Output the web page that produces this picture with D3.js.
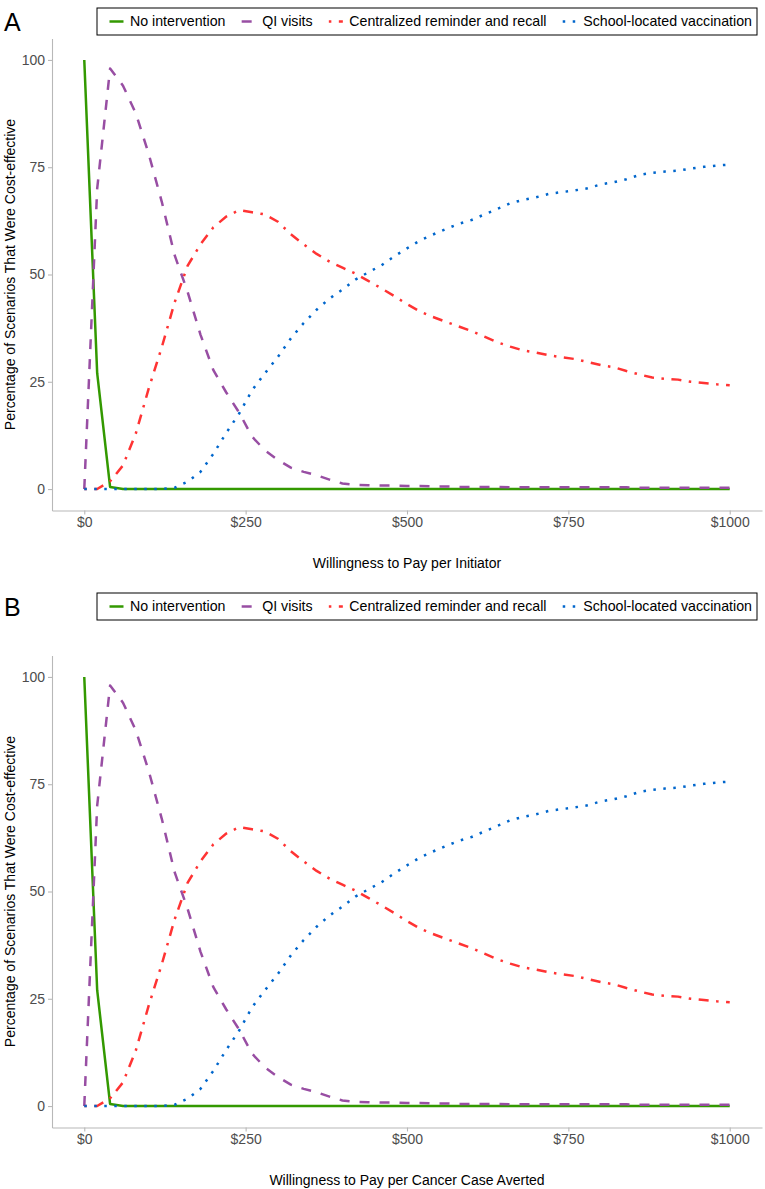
<!DOCTYPE html>
<html>
<head>
<meta charset="utf-8">
<script src="https://cdn.jsdelivr.net/npm/d3@7"></script>
<style>
  html, body { margin: 0; padding: 0; background: #fff; }
  svg { display: block; font-family: "Liberation Sans", Arial, sans-serif; }
</style>
</head>
<body>
<svg id="chart" width="765" height="1189"></svg>
<script>
// ---------------- DATA ----------------
const wtp = [0,20,40,60,80,100,120,140,160,180,200,220,240,260,280,300,320,340,360,380,
  400,420,440,460,480,500,520,540,560,580,600,620,640,660,680,700,720,740,760,780,
  800,820,840,860,880,900,920,940,960,980,1000];

const noIntervention = [100,27,0.5,0,0,0,0,0,0,0,0,0,0,0,0,0,0,0,0,0,
  0,0,0,0,0,0,0,0,0,0,0,0,0,0,0,0,0,0,0,0,
  0,0,0,0,0,0,0,0,0,0,0];

const qiVisits = [0,70,98,94,87.5,78,67,54.5,46,36,27.7,22.5,17.8,12.2,9,6.8,5,4,3.2,2.2,
  1.3,1,0.9,0.8,0.8,0.7,0.7,0.6,0.6,0.5,0.5,0.5,0.5,0.4,0.4,0.4,0.4,0.4,0.4,0.4,
  0.4,0.4,0.4,0.3,0.3,0.3,0.3,0.3,0.3,0.3,0.3];

const reminderRecall = [0,0,1.8,5.5,13,23.5,33,43.5,52,57,61,63.5,65,64.5,64,62.3,59.4,57,54.8,53,
  51.6,50.2,48.5,46.8,45,43.1,41.4,40.1,39,37.9,36.8,35.5,34.2,33.2,32.3,31.8,31.2,30.7,30.3,29.6,
  28.9,28.4,27.5,26.7,26,25.7,25.5,25,24.7,24.4,24.2];

const schoolLocated = [0,0,0,0,0,0,0,0.3,1.7,4,8.2,13.1,17.6,23,27,30.8,35.1,38.7,41.8,44.4,
  46.5,48.8,50.5,52.1,54.2,56.1,57.9,59.3,60.6,61.8,62.7,64,65.3,66.6,67.4,68,68.8,69.2,69.6,70.1,
  71,71.5,72.2,73.2,73.7,74,74.2,74.7,75.1,75.4,75.6];

const seriesNames = ["No intervention","QI visits","Centralized reminder and recall","School-located vaccination"];
const seriesValues = [noIntervention, qiVisits, reminderRecall, schoolLocated];
const xTicks = [0,250,500,750,1000];
const xTickLabels = ["$0","$250","$500","$750","$1000"];
const yTicks = [0,25,50,75,100];
const panelLabels = ["A","B"];
const xTitles = ["Willingness to Pay per Initiator","Willingness to Pay per Cancer Case Averted"];
const yTitle = "Percentage of Scenarios That Were Cost-effective";

// ---------------- STYLE ----------------
const colors = ["#339900","#984ea3","#ff3333","#0066cc"];
const dashes = [null,"10,10","2.5,7.5,10,7.5","2.5,7.5"];
const lw = 2.5;

const svg = d3.select("#chart");
const panelOffsets = [0, 617];
const legendTops = [8, 593];

const x = d3.scaleLinear().domain([-50,1050]).range([52,762]);

panelOffsets.forEach((dy, pi) => {
  const y = d3.scaleLinear().domain([-5,105]).range([510.5+dy, 38.5+dy]);
  const g = svg.append("g");

  // axes
  const xAxis = d3.axisBottom(x).tickValues(xTicks)
    .tickFormat((d,i)=>xTickLabels[i]).tickSize(4).tickPadding(3).tickSizeOuter(0);
  const gx = g.append("g").attr("transform",`translate(0,${y(-5)})`).call(xAxis);
  const yAxis = d3.axisLeft(y).tickValues(yTicks).tickSize(4).tickPadding(3).tickSizeOuter(0);
  const gy = g.append("g").attr("transform",`translate(${x(-50)},0)`).call(yAxis);
  [gx,gy].forEach(a=>{
    a.select(".domain").attr("stroke","#b8b8b8").attr("stroke-width",1.1);
    a.selectAll(".tick line").attr("stroke","#b8b8b8").attr("stroke-width",1.1);
    a.selectAll(".tick text").attr("fill","#4d4d4d").attr("font-size",14)
      .attr("font-family","'Liberation Sans', Arial, sans-serif");
  });

  // lines
  seriesValues.forEach((vals, si) => {
    const line = d3.line().x((d,i)=>x(wtp[i])).y(d=>y(d));
    g.append("path").datum(vals)
      .attr("d", line)
      .attr("fill","none")
      .attr("stroke", colors[si])
      .attr("stroke-width", lw)
      .attr("stroke-linecap","butt")
      .attr("stroke-linejoin","round")
      .attr("stroke-dasharray", dashes[si]);
  });

  // axis titles
  g.append("text").attr("x",(x(-50)+x(1050))/2).attr("y",568+dy)
    .attr("text-anchor","middle").attr("font-size",14).attr("fill","#000")
    .text(xTitles[pi]);
  const yc = (y(-5)+y(105))/2;
  g.append("text").attr("transform",`translate(15,${yc}) rotate(-90)`)
    .attr("text-anchor","middle").attr("font-size",14).attr("fill","#000")
    .text(yTitle);

  // panel label
  g.append("text").attr("x",4).attr("y",legendTops[pi]+23)
    .attr("font-size",25).attr("fill","#000").text(panelLabels[pi]);

  // legend
  const ly = legendTops[pi], lh = 27, lx0 = 97, lx1 = 757;
  const lg = g.append("g");
  lg.append("rect").attr("x",lx0).attr("y",ly).attr("width",lx1-lx0).attr("height",lh)
    .attr("fill","#fff").attr("stroke","#000").attr("stroke-width",1);
  const texts = seriesNames.map(n => lg.append("text").attr("font-size",14.2)
    .attr("fill","#000").attr("y",ly+lh/2).attr("dy","0.35em").text(n));
  const tw = texts.map(t=>t.node().getComputedTextLength());
  const keyW = 17, keyGap = 5, pad = 11;
  const total = d3.sum(tw) + seriesNames.length*(keyW+keyGap);
  const gap = ((lx1-lx0) - pad - 5 - total)/(seriesNames.length-1);
  let cx = lx0 + pad;
  seriesNames.forEach((n,si)=>{
    lg.append("line").attr("x1",cx+1.5).attr("x2",cx+keyW-1.5)
      .attr("y1",ly+lh/2).attr("y2",ly+lh/2)
      .attr("stroke",colors[si]).attr("stroke-width",lw)
      .attr("stroke-dasharray",dashes[si]);
    texts[si].attr("x",cx+keyW+keyGap);
    cx += keyW+keyGap+tw[si]+gap;
  });
});
</script>
</body>
</html>
